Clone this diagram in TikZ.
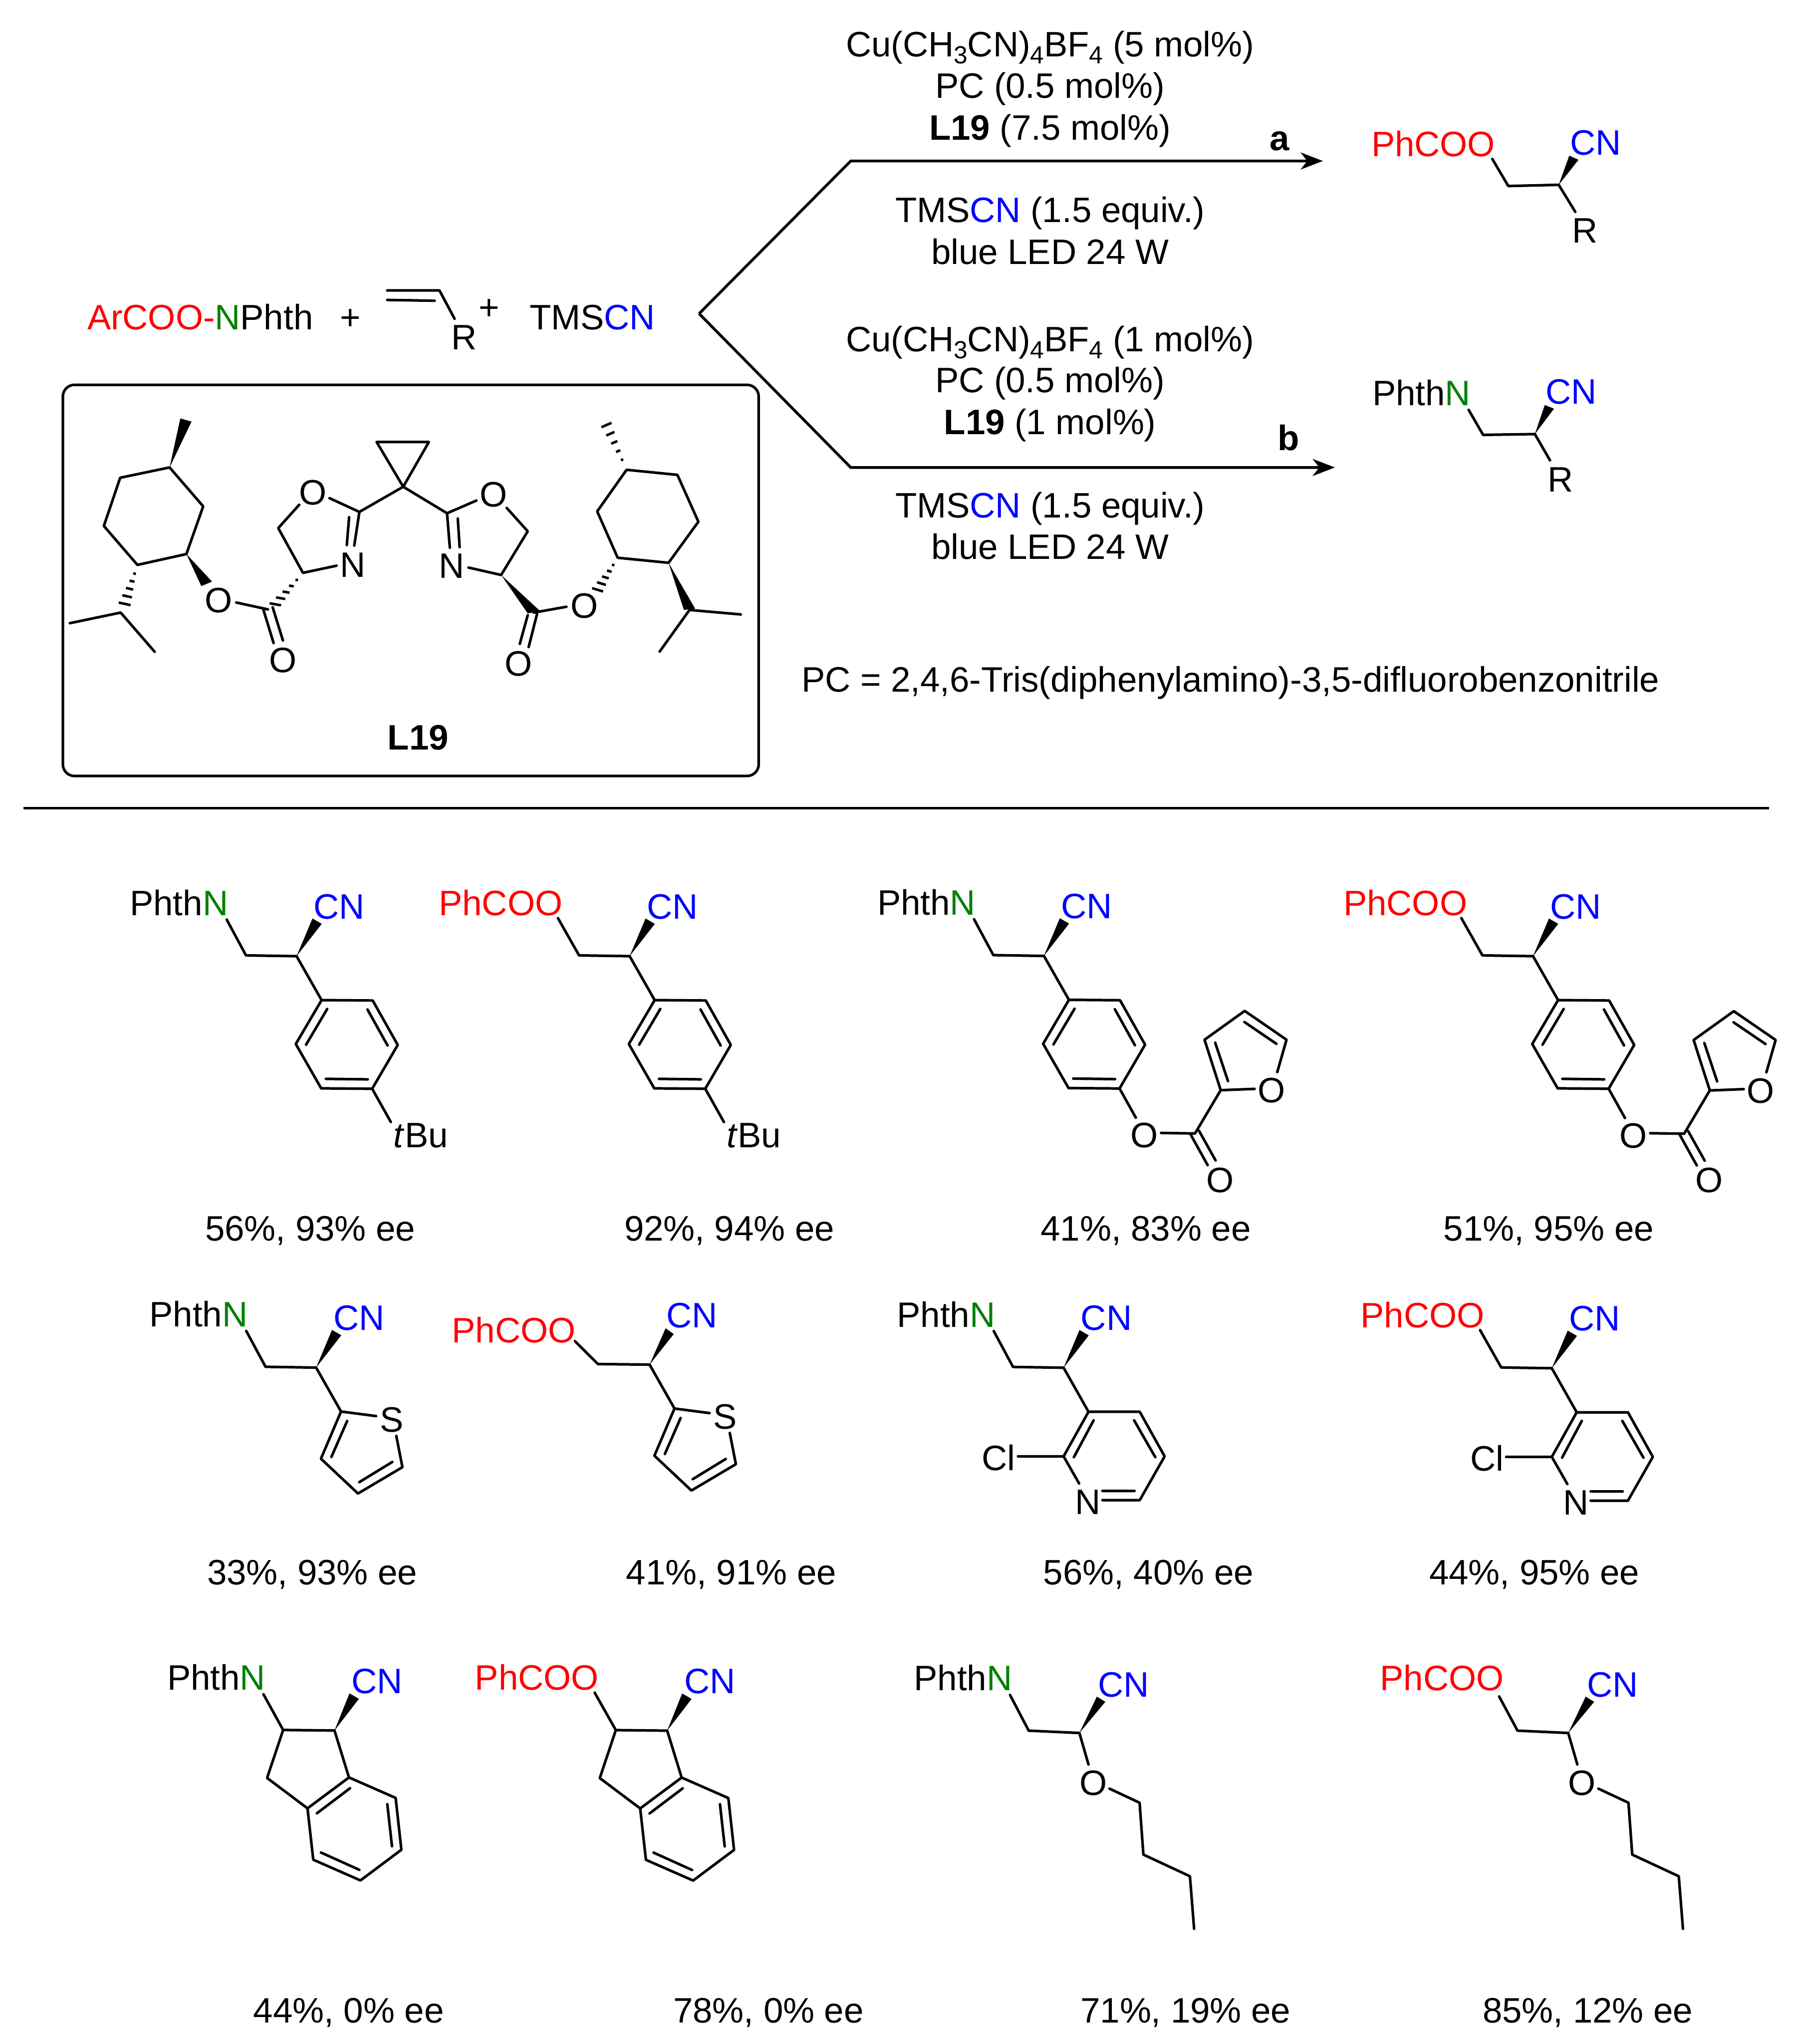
\documentclass[tikz,border=0pt]{standalone}
\usepackage{fontspec}
\setmainfont{Liberation Sans}
\usetikzlibrary{calc,arrows.meta}
\definecolor{xgreen}{RGB}{0,128,0}
\definecolor{xblue}{RGB}{0,0,255}
\definecolor{xred}{RGB}{255,0,0}
\newcommand{\GN}{\textcolor{xgreen}{N}}
\newcommand{\BCN}{\textcolor{xblue}{CN}}
\newcommand{\RED}[1]{\textcolor{xred}{#1}}
\newcommand{\sbs}[1]{\raisebox{-5.5pt}{\fontsize{19}{21}\selectfont #1}}
\newcommand{\PHN}{Phth\GN}
\newcommand{\PHC}{\RED{PhCOO}}
\tikzset{
  lab/.style={inner sep=0pt,outer sep=0pt,text height=19.4pt,text depth=0pt,font=\fontsize{27.1}{31}\selectfont},
  bond/.style={line width=2pt,line cap=round,line join=round},
  hashline/.style={line width=1.9pt},
  react/.style={line width=2.1pt,line join=miter},
  arr/.style={react,-{Stealth[length=17pt,width=13pt,inset=5pt]}}
}
% label: anchor, name, position, text
\newcommand{\lb}[4]{\node[lab,anchor=#1] (#2) at (#3) {#4};}
% wedge: apex, end1, end2
\newcommand{\wedgeb}[3]{\fill #1 -- #2 -- #3 -- cycle;}
% hashed bond: apex, end1, end2
\newcommand{\hashb}[3]{\foreach \t in {.22,.41,.60,.79,.98}{\draw[hashline] ($#1!\t!#2$) -- ($#1!\t!#3$);}}
% chain with stereo centre at origin: name, label text, label right x,y, bond start, CH2, wedge ends, CN pos
\newcommand{\chainb}[8]{%
  \lb{east}{#1-l}{$(#3)+(1.5,0)$}{#2}
  \lb{center}{#1-cn}{#8}{\BCN}
  \draw[bond] (#4) -- (#5) -- (0,0);
  \wedgeb{(0,0)}{(#6)}{(#7)}}
\newcommand{\stdN}[1]{\chainb{#1}{\PHN}{-54,-41}{-53.6,-28.1}{-38.8,-.6}{12.2,-28.9}{19.3,-24.8}{32.8,-38.4}}
\newcommand{\stdC}[2]{\chainb{#1}{\PHC}{#2,-41}{-55,-29.2}{-38.8,-.6}{12.2,-28.9}{19.3,-24.8}{32.8,-38.4}}
% para-substituted aryl
\newcommand{\aryl}{%
  \draw[bond] (0,0) -- (19.2,33.7);
  \draw[bond] (19.2,33.7) -- (58.4,34) -- (77.6,68.1) -- (58,101.7) -- (18.9,101.4) -- (-.6,67.4) -- cycle;
  \draw[bond] (23.5,40.5) -- (7.3,67.9) (54.4,40.9) -- (69.8,68.5) (22.5,94.1) -- (54.6,94.5);}
% tBu substituent
\newcommand{\tbu}[1]{%
  \draw[bond] (58,101.7) -- (72.3,127.2);
  \lb{west}{#1-tbu}{74.5,137}{\textit{t}Bu}}
% furoate ester substituent
\newcommand{\furoate}[1]{%
  \lb{center}{#1-o1}{76.8,137.3}{O}
  \lb{center}{#1-o2}{174.7,103}{O}
  \lb{center}{#1-o3}{135.3,171.6}{O}
  \draw[bond] (58,101.7) -- (70.5,124.1) (89.9,135.8) -- (115.9,136.2) -- (135.6,103);
  \draw[bond] (161.6,102) -- (135.6,103) -- (123.2,64.3) -- (154,42.2) -- (186.1,64.3) -- (179,89.1);
  \draw[bond] (131.4,66.6) -- (141.2,96) (153.8,50.7) -- (178.3,67.4);
  \draw[bond] (112.7,137.3) -- (125.6,160.5) (119,134.2) -- (131.7,156.9);}
% thienyl
\newcommand{\thienyl}[1]{%
  \lb{center}{#1-s}{58.1,39.5}{S}
  \draw[bond] (0,0) -- (19.1,33.7) -- (46,37.2);
  \draw[bond] (19.1,33.7) -- (3.7,69.9) -- (32.1,96.6) -- (66.2,76.4) -- (61.5,52.4);
  \draw[bond] (23.8,41) -- (11.7,68.6) (58.4,72.4) -- (33.1,87.9);}
% 2-chloropyridin-3-yl
\newcommand{\pyridyl}[1]{%
  \lb{center}{#1-n}{18.6,102.9}{N}
  \lb{east}{#1-cl}{-37,68.9}{Cl}
  \draw[bond] (0,0) -- (19.1,33.8) -- (58.4,33.8) -- (77.5,68) -- (58.4,101.6) -- (29.8,101.6);
  \draw[bond] (29.8,94.5) -- (54.4,94.5) (23,40.4) -- (7.9,68.6) (54.1,40.4) -- (70.3,68.6);
  \draw[bond] (19.1,33.8) -- (0,68) -- (11.9,88.8) (-35,68) -- (0,68);}
% indane
\newcommand{\indane}{%
  \draw[bond] (-39.4,-.4) -- (-51.7,36.4) -- (-20.7,59.7) -- (11.1,36) -- (0,0);
  \draw[bond] (11.1,36) -- (46.9,51.7) -- (51.3,91.5) -- (19.9,115) -- (-16.3,99.1) -- (-20.7,59.7);
  \draw[bond] (11.9,44.3) -- (-13.5,63.5) (40.5,56.5) -- (44.1,88.8) (-10.4,93.6) -- (19.1,106.9);}
% butoxy
\newcommand{\butoxy}[1]{%
  \lb{center}{#1-o}{10.6,38}{O}
  \draw[bond] (0,0) -- (7,24.2) (23.1,42.7) -- (46.2,53.5) -- (49.1,93.3) -- (84.8,109.9) -- (88,150.2);}
\begin{document}
\begin{tikzpicture}[x=1pt,y=-1pt]
\useasboundingbox (0,0) rectangle (1379,1568);
\fill[white] (0,0) rectangle (1379,1568);

% ---------- reagents
\lb{west}{sm}{67,243.3}{\RED{ArCOO-}\GN Phth}
\lb{center}{plus1}{268.8,243.3}{+}
\lb{center}{plus2}{375.2,235.3}{+}
\lb{west}{tms}{406.3,243.3}{TMS\BCN}
\lb{center}{smr}{356,258.3}{R}
\draw[bond] (297,222.8) -- (337.1,222.8) -- (348.7,244.5);
\draw[bond] (297,230.1) -- (333.4,230.7);

% ---------- branching arrows
\coordinate (branch) at (536.3,240.6);
\coordinate (upper) at (652.6,123.5);
\coordinate (lower) at (652.6,358.6);
\coordinate (tipa) at (1014.8,123.5);
\coordinate (tipb) at (1024,358.6);
\draw[arr] (branch) -- (upper) -- (tipa);
\draw[arr] (branch) -- (lower) -- (tipb);
\lb{center}{laba}{981.8,105.7}{\textbf{a}}
\lb{center}{labb}{988.4,335.9}{\textbf{b}}

% ---------- conditions
\lb{center}{c1}{805.5,33.6}{Cu(CH\sbs{3}CN)\sbs{4}BF\sbs{4} (5 mol\%)}
\lb{center}{c2}{805.5,65.5}{PC (0.5 mol\%)}
\lb{center}{c3}{805.5,97.6}{\textbf{L19} (7.5 mol\%)}
\lb{center}{c4}{805.5,160.8}{TMS\BCN{} (1.5 equiv.)}
\lb{center}{c5}{805.5,192.9}{blue LED 24 W}
\lb{center}{d1}{805.5,259.8}{Cu(CH\sbs{3}CN)\sbs{4}BF\sbs{4} (1 mol\%)}
\lb{center}{d2}{805.5,291.4}{PC (0.5 mol\%)}
\lb{center}{d3}{805.5,323.6}{\textbf{L19} (1 mol\%)}
\lb{center}{d4}{805.5,387.6}{TMS\BCN{} (1.5 equiv.)}
\lb{center}{d5}{805.5,419.2}{blue LED 24 W}
\lb{west}{pc}{615,521}{PC = 2,4,6-Tris(diphenylamino)-3,5-difluorobenzonitrile}

% ---------- products a, b
\begin{scope}[shift={(1195.7,141.8)}]
  \chainb{pa}{\PHC}{-50.3,-31.3}{-50.9,-19.8}{-38.7,.9}{8.1,-22.4}{15.2,-19.2}{28.3,-32.7}
  \draw[bond] (0,0) -- (12.7,20.7);
  \lb{center}{pa-r}{20.3,34.8}{R}
\end{scope}
\begin{scope}[shift={(1177.4,333)}]
  \chainb{pb}{\PHN}{-50.8,-31.5}{-50.8,-18.6}{-39.7,.6}{7.6,-22.3}{14.7,-19.5}{27.9,-33}
  \draw[bond] (0,0) -- (11.6,20.1);
  \lb{center}{pb-r}{19.8,34.5}{R}
\end{scope}

% ---------- ligand L19
\draw[line width=2pt,rounded corners=9pt] (48.2,295.2) rectangle (582,595.3);
\begin{scope}[shift={(34.6,284)},x=.3577pt,y=-.2032pt]
  \lb{center}{lO1}{372,867}{O}
  \lb{center}{lO2}{510,1093}{O}
  \lb{center}{lO3}{574,460}{O}
  \lb{center}{lN1}{660,733}{N}
  \lb{center}{rO3}{962,468}{O}
  \lb{center}{rN1}{872,737}{N}
  \lb{center}{rO1}{1157,887}{O}
  \lb{center}{rO2}{1015,1107}{O}
  \lb{center}{l19}{800,1385}{\textbf{L19}}
  % left menthyl
  \draw[bond] (267,367) -- (161,406) -- (126,588) -- (198,735) -- (303,694) -- (339,514) -- cycle;
  \wedgeb{(267,367)}{(290,182)}{(314,194)}
  \hashb{(198,735)}{(157,880)}{(183,890)}
  \draw[bond] (53,955) -- (162,915) -- (235,1063);
  \wedgeb{(303,694)}{(335,815)}{(358,798)}
  % left ester
  \draw[bond] (410,877) -- (478,903);
  \draw[bond] (468,903) -- (490,1030) (488,895) -- (510,1020);
  \hashb{(553,765)}{(480,882)}{(505,890)}
  % left oxazoline
  \draw[bond] (625,738) -- (553,765) -- (500,596) -- (545,508);
  \draw[bond] (610,483) -- (674,535) -- (663,662) (652,555) -- (647,660);
  % cyclopropane
  \draw[bond] (768,440) -- (711,271) -- (823,271) -- cycle;
  \draw[bond] (674,535) -- (768,440) -- (862,540);
  % right oxazoline
  \draw[bond] (925,492) -- (862,540) -- (868,670) (885,560) -- (889,668);
  \draw[bond] (990,520) -- (1035,608) -- (978,773) -- (908,745);
  % right ester
  \wedgeb{(978,773)}{(1035,918)}{(1062,910)}
  \draw[bond] (1048,915) -- (1118,893);
  \draw[bond] (1035,925) -- (1018,1033) (1055,920) -- (1037,1045);
  % right menthyl
  \draw[bond] (1228,708) -- (1184,533) -- (1247,376) -- (1356,395) -- (1401,572) -- (1337,727) -- cycle;
  \hashb{(1228,708)}{(1172,825)}{(1196,838)}
  \hashb{(1247,376)}{(1192,212)}{(1214,195)}
  \wedgeb{(1337,727)}{(1370,905)}{(1394,900)}
  \draw[bond] (1492,922) -- (1382,905) -- (1318,1062);
\end{scope}

% ---------- divider
\draw[line width=2pt] (18,620) -- (1357,620);

% ---------- row 1
\begin{scope}[shift={(227.5,733.5)}]\stdN{a1}\aryl\tbu{a1}\end{scope}
\begin{scope}[shift={(483,733.5)}]\stdC{a2}{-53}\aryl\tbu{a2}\end{scope}
\begin{scope}[shift={(800.8,733.3)}]\stdN{a3}\aryl\furoate{a3}\end{scope}
\begin{scope}[shift={(1176,733.5)}]\stdC{a4}{-52}\aryl\furoate{a4}\end{scope}
\lb{center}{y1}{238,942}{56\%, 93\% ee}
\lb{center}{y2}{559.5,942}{92\%, 94\% ee}
\lb{center}{y3}{879,942}{41\%, 83\% ee}
\lb{center}{y4}{1188,942}{51\%, 95\% ee}

% ---------- row 2
\begin{scope}[shift={(242.5,1049.1)}]\stdN{b1}\thienyl{b1}\end{scope}
\begin{scope}[shift={(498.3,1046.8)}]
  \chainb{b2}{\PHC}{-58.2,-26.7}{-57.3,-18}{-39.6,-.4}{12.3,-27.9}{18.5,-23.4}{32.4,-37.9}
  \thienyl{b2}
\end{scope}
\begin{scope}[shift={(815.9,1049.2)}]\stdN{b3}\pyridyl{b3}\end{scope}
\begin{scope}[shift={(1190.4,1049.6)}]\stdC{b4}{-53.3}\pyridyl{b4}\end{scope}
\lb{center}{y5}{239.5,1206}{33\%, 93\% ee}
\lb{center}{y6}{561,1206}{41\%, 91\% ee}
\lb{center}{y7}{881,1206}{56\%, 40\% ee}
\lb{center}{y8}{1177,1206}{44\%, 95\% ee}

% ---------- row 3
\begin{scope}[shift={(256.6,1327.5)}]
  \chainb{c1m}{\PHN}{-54.5,-40.8}{-54.5,-27.8}{-39.4,-.4}{11.5,-28.5}{18.7,-24.3}{32.6,-38.1}\indane
\end{scope}
\begin{scope}[shift={(511.8,1327.6)}]
  \chainb{c2m}{\PHC}{-54,-41}{-55.6,-29.1}{-39.4,-.4}{11.5,-28.5}{18.7,-24.3}{32.6,-38.1}\indane
\end{scope}
\begin{scope}[shift={(828,1329.4)}]
  \chainb{c3m}{\PHN}{-53,-42.4}{-53.2,-29.2}{-38.9,-1.8}{13.4,-27.9}{19.9,-23.9}{34,-37.5}\butoxy{c3m}
\end{scope}
\begin{scope}[shift={(1203,1329.4)}]
  \chainb{c4m}{\PHC}{-51,-42.4}{-53,-28}{-38.9,-1.8}{13.4,-27.9}{19.9,-23.9}{34,-37.5}\butoxy{c4m}
\end{scope}
\lb{center}{y9}{267.5,1542}{44\%, 0\% ee}
\lb{center}{y10}{589.5,1542}{78\%, 0\% ee}
\lb{center}{y11}{909.5,1542}{71\%, 19\% ee}
\lb{center}{y12}{1218,1542}{85\%, 12\% ee}
\end{tikzpicture}
\end{document}
